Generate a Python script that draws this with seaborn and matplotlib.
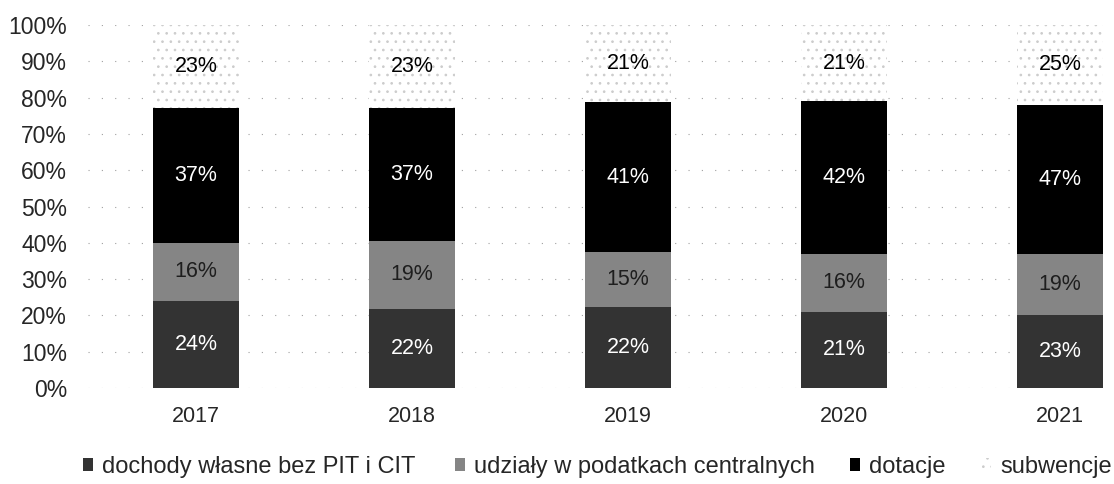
import matplotlib
matplotlib.use("Agg")
import matplotlib.pyplot as plt
import seaborn as sns
import numpy as np
import pandas as pd

years = ["2017", "2018", "2019", "2020", "2021"]
dochody_wlasne = [24, 22, 22, 21, 23]
udzialy = [16, 19, 15, 16, 19]
dotacje = [37, 37, 41, 42, 47]
subwencje = [23, 23, 21, 21, 25]

series_names = ["dochody własne bez PIT i CIT", "udziały w podatkach centralnych",
                "dotacje", "subwencje"]
series_values = [dochody_wlasne, udzialy, dotacje, subwencje]
face_colors = ["#333333", "#858585", "#000000", "#ffffff"]
hatches = [None, None, None, ".."]
label_colors = ["white", "#1e1e1e", "white", "black"]
stipple = "#cccccc"

sns.set_theme(style="white")
plt.rcParams["font.family"] = ["Liberation Sans", "DejaVu Sans"]
plt.rcParams["hatch.color"] = stipple
plt.rcParams["hatch.linewidth"] = 0.7

raw = np.array(series_values, dtype=float)
shares = raw / raw.sum(axis=0)  # 100% stacked

fig = plt.figure(figsize=(11.14, 4.84), dpi=100)
ax = fig.add_axes([88 / 1114, 96 / 484, 1 - 88 / 1114, 363 / 484])

bottom = np.zeros(len(years))
handles = []
for i, name in enumerate(series_names):
    df = pd.DataFrame({"rok": years, "udzial": shares[i]})
    sns.barplot(data=df, x="rok", y="udzial", color=face_colors[i], width=0.4,
                bottom=bottom, ax=ax, saturation=1, linewidth=0,
                hatch=hatches[i], edgecolor=stipple if hatches[i] else face_colors[i])
    cont = ax.containers[-1]
    handles.append(cont.patches[0])
    for j, p in enumerate(cont.patches):
        ax.text(p.get_x() + p.get_width() / 2, bottom[j] + shares[i][j] / 2,
                f"{series_values[i][j]}%", ha="center", va="center",
                fontsize=15.5, color=label_colors[i])
    bottom = bottom + shares[i]

ax.set_ylim(0, 1)
ax.set_xlim(-0.5, 4.25)
ax.set_yticks(np.arange(0, 1.01, 0.1))
ax.set_yticklabels([f"{int(round(v * 100))}%" for v in np.arange(0, 1.01, 0.1)])
ax.tick_params(axis="y", length=0, pad=15, labelsize=16.5)
ax.tick_params(axis="x", length=0, pad=13, labelsize=15.5)
ax.set_xlabel("")
ax.set_ylabel("")
for s in ax.spines.values():
    s.set_visible(False)
ax.yaxis.grid(True, color="#a0a0a0", linestyle=(0, (1, 11)), linewidth=0.8)
ax.set_axisbelow(True)

# one legend entry per slot along the bottom row
legend_x = [83, 455, 850, 981]
for h, name, x in zip(handles, series_names, legend_x):
    fig.legend([h], [name], loc="center left", bbox_to_anchor=(x / 1114, 17 / 484),
               frameon=False, fontsize=17, handlelength=0.42, handleheight=0.42,
               handletextpad=0.38, borderpad=0, borderaxespad=0)

fig.savefig("out.png", dpi=100)
